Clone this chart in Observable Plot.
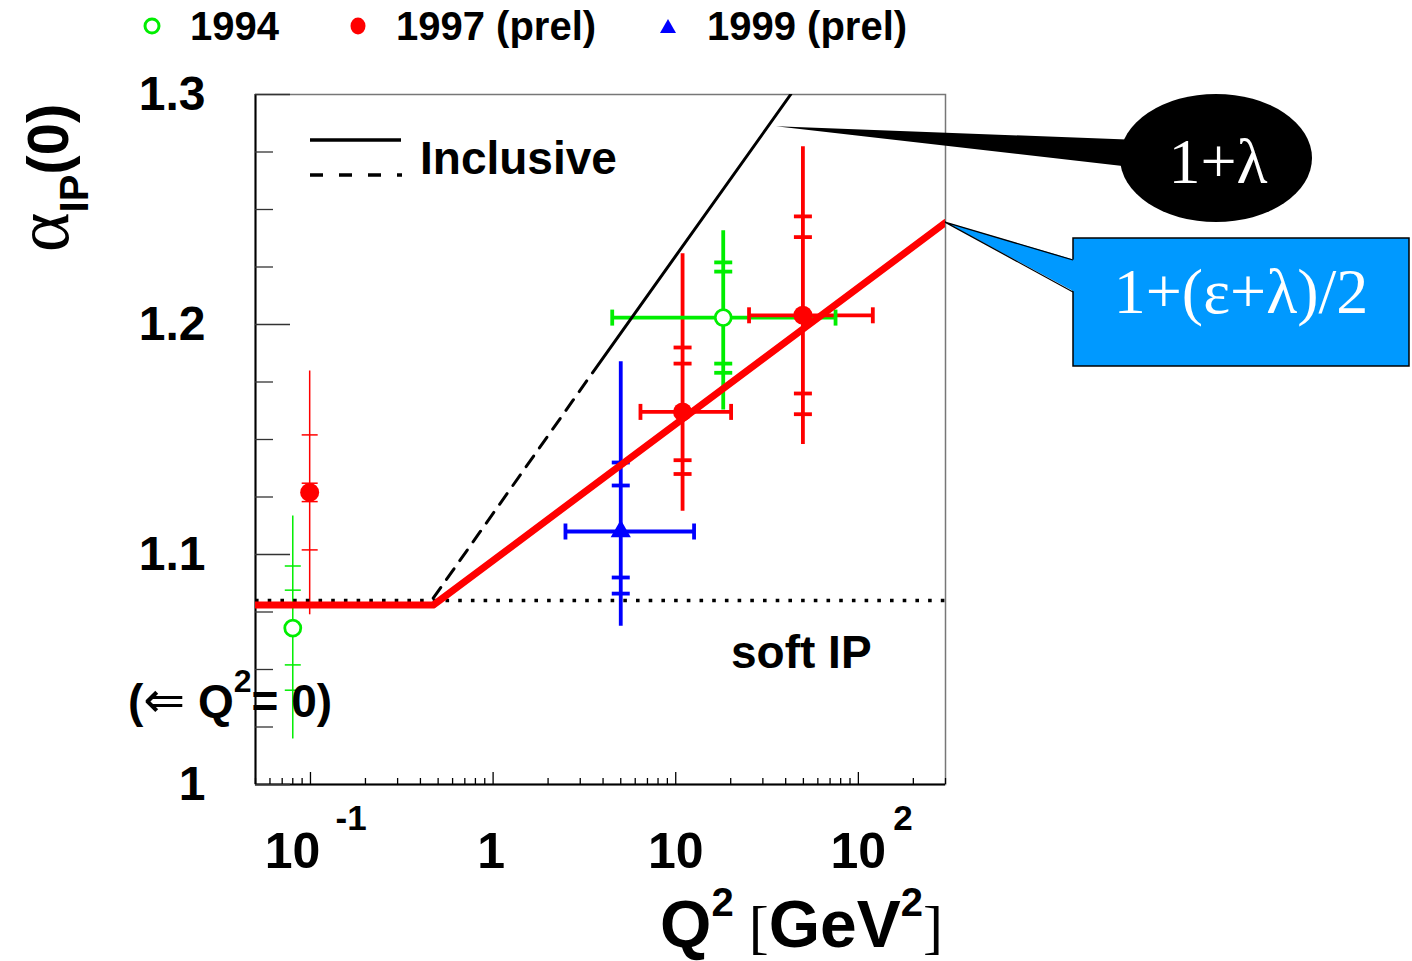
<!DOCTYPE html>
<html>
<head>
<meta charset="utf-8">
<script src="https://cdn.jsdelivr.net/npm/d3@7"></script>
<script src="https://cdn.jsdelivr.net/npm/@observablehq/plot@0.6"></script>
<style>
html,body{margin:0;padding:0;background:#fff;}
#chart svg{display:block;}
</style>
</head>
<body>
<div id="chart"></div>
<script>
// ================= DATA =================
const seriesNames = ["1994", "1997 (prel)", "1999 (prel)"];

// measured points (Q^2 = 0 points are drawn at 0.08 and 0.1)
const pointSeries = ["1994", "1994", "1997 (prel)", "1997 (prel)", "1997 (prel)", "1999 (prel)"];
const pointQ2     = [0.08,   18.2,   0.099,  10.9,   49.7,   5.0];
const pointAlpha  = [1.068,  1.203,  1.127,  1.162,  1.204,  1.110];
const errTotUp    = [0.049,  0.038,  0.053,  0.069,  0.0735, 0.074];
const errTotDn    = [0.048,  0.040,  0.053,  0.043,  0.056,  0.041];
const errInnerUp  = [0.0165, 0.020,  0.004,  0.021,  0.034,  0.020];
const errInnerDn  = [0.016,  0.020,  0.004,  0.021,  0.034,  0.020];
const errOuterUp  = [0.027,  0.024,  0.025,  0.028,  0.043,  0.030];
const errOuterDn  = [0.027,  0.024,  0.025,  0.027,  0.043,  0.027];
const q2Low       = [null,   4.49,   null,   6.41,   25.2,   2.49];
const q2High      = [null,   75,     null,   20.1,   120,    12.6];

// model curves
const modelQ2 = [0.05, 0.47, 300];
const modelAlpha = [1.078, 1.078, 1.2443];           // 1+(eps+lambda)/2
const inclDashQ2 = [0.47, 3.5];
const inclDashAlpha = [1.081, 1.179];                  // 1+lambda (extrapolated)
const inclSolidQ2 = [3.5, 42.6];
const inclSolidAlpha = [1.179, 1.3];                   // 1+lambda
const softPomeron = [1.08];
const lambdaTip = [35.6, 1.286];                       // where the "1+λ" callout points

// axes
const yMajor = [1.0, 1.1, 1.2, 1.3];
const yTickLabels = ["1", "1.1", "1.2", "1.3"];
const xMajor = [0.1, 1, 10, 100];
const xTickBase = ["10", "1", "10", "10"];
const xTickExp = ["-1", "", "", "2"];

// ================= STYLE / LAYOUT =================
const seriesColor = {"1994": "#00ee00", "1997 (prel)": "#ff0000", "1999 (prel)": "#0000ff"};
const X0 = 0.05, X1 = 300, Y0 = 1.0, Y1 = 1.3;
const W = 1412, H = 961;
const M = {top: 94, right: 467, bottom: 177, left: 255};
const FW = W - M.left - M.right, FH = H - M.top - M.bottom;
const sans = "'Liberation Sans', Arial, Helvetica, sans-serif";
const serif = "'Liberation Serif', 'Times New Roman', serif";
const xBaseDx = [-18, -2, 0, 0];
const xExpDx = [25, 0, 0, 35];

const yMinor = d3.range(0, 13).map(k => +(Y0 + k * 0.025).toFixed(3)).filter(v => !yMajor.includes(v));
const xMinor = [];
for (const dec of [0.01, 0.1, 1, 10, 100]) for (let m = 2; m <= 9; m++) {
  const v = +(dec * m).toPrecision(3);
  if (v >= X0 && v <= X1) xMinor.push(v);
}

const pts = pointQ2.map((q, i) => ({
  s: pointSeries[i], c: seriesColor[pointSeries[i]], q, a: pointAlpha[i],
  up: errTotUp[i], dn: errTotDn[i],
  i1u: errInnerUp[i], i1d: errInnerDn[i], i2u: errOuterUp[i], i2d: errOuterDn[i],
  lo: q2Low[i], hi: q2High[i], thin: q2Low[i] == null
}));
const ticksOn = pts.flatMap(d => [d.a + d.i1u, d.a - d.i1d, d.a + d.i2u, d.a - d.i2d]
  .map(y => ({q: d.q, y, c: d.c, thin: d.thin})));
const xErr = pts.filter(d => d.lo != null);
const xCaps = xErr.flatMap(d => [d.lo, d.hi].map(x => ({x, y: d.a, c: d.c})));

const hTick = {draw(ctx, size) { const w = Math.sqrt(size / Math.PI); ctx.moveTo(-w, 0); ctx.lineTo(w, 0); }};
const vTick = {draw(ctx, size) { const w = Math.sqrt(size / Math.PI); ctx.moveTo(0, -w); ctx.lineTo(0, w); }};

const toRows = (xs, ys) => xs.map((x, i) => ({x, y: ys[i]}));

const marks = [
  Plot.frame({stroke: "#777", strokeWidth: 1.5}),
  Plot.ruleX([X0], {stroke: "#000", strokeWidth: 2}),
  Plot.ruleY([Y0], {stroke: "#000", strokeWidth: 2}),
  Plot.tickY(yMajor, {y: d => d, insetRight: FW - 35, stroke: "#333", strokeWidth: 1.3}),
  Plot.tickY(yMinor, {y: d => d, insetRight: FW - 18, stroke: "#333", strokeWidth: 1.3}),
  Plot.tickX(xMajor, {x: d => d, insetTop: FH - 12, stroke: "#000", strokeWidth: 1.3}),
  Plot.tickX(xMinor, {x: d => d, insetTop: FH - 6, stroke: "#000", strokeWidth: 1.3}),
  Plot.text(yMajor, {x: X0, y: d => d, text: (d, i) => yTickLabels[i], textAnchor: "end", dx: -50,
    fontSize: 48, fontWeight: "bold", fontFamily: sans, fill: "#000"}),
  ...xMajor.map((v, i) => Plot.text([v], {x: d => d, y: Y0, text: () => xTickBase[i], dx: xBaseDx[i], dy: 67,
    fontSize: 50, fontWeight: "bold", fontFamily: sans, fill: "#000"})),
  ...xMajor.map((v, i) => Plot.text([v], {x: d => d, y: Y0, text: () => xTickExp[i], dx: xExpDx[i], dy: 34,
    textAnchor: "start", fontSize: 35, fontWeight: "bold", fontFamily: sans, fill: "#000"})),

  // vertical error bars
  Plot.link(pts, {x1: "q", x2: "q", y1: d => d.a - d.dn, y2: d => d.a + d.up, stroke: "c",
    strokeWidth: d => d.thin ? 1.5 : 3.8}),
  Plot.dot(ticksOn.filter(d => d.thin), {x: "q", y: "y", symbol: hTick, r: 8, stroke: "c", fill: "none", strokeWidth: 1.5}),
  Plot.dot(ticksOn.filter(d => !d.thin), {x: "q", y: "y", symbol: hTick, r: 9, stroke: "c", fill: "none", strokeWidth: 3.8}),
  // horizontal error bars
  Plot.link(xErr, {x1: "lo", x2: "hi", y1: "a", y2: "a", stroke: "c", strokeWidth: 3.8}),
  Plot.dot(xCaps, {x: "x", y: "y", symbol: vTick, r: 8, stroke: "c", fill: "none", strokeWidth: 3.8}),

  // models
  Plot.ruleY(softPomeron, {stroke: "#000", strokeWidth: 3.6, strokeDasharray: "3.6 9.1"}),
  Plot.line(toRows(inclDashQ2, inclDashAlpha), {x: "x", y: "y", stroke: "#000", strokeWidth: 3, strokeDasharray: "13 10", clip: true}),
  Plot.line(toRows(inclSolidQ2, inclSolidAlpha), {x: "x", y: "y", stroke: "#000", strokeWidth: 3, clip: true}),
  Plot.line(toRows(modelQ2, modelAlpha), {x: "x", y: "y", stroke: "#ff0000", strokeWidth: 7, clip: true}),

  // markers
  Plot.dot(pts.filter(d => d.s === "1994"), {x: "q", y: "a", r: 8, fill: "#fff", stroke: "c", strokeWidth: 2.8}),
  Plot.dot(pts.filter(d => d.s === "1997 (prel)"), {x: "q", y: "a", r: 9.5, fill: "c", stroke: "none"}),
  Plot.dot(pts.filter(d => d.s === "1999 (prel)"), {x: "q", y: "a", symbol: "triangle", r: 7.5, fill: "c", stroke: "none"})
];

const plot = Plot.plot({
  width: W, height: H,
  marginTop: M.top, marginRight: M.right, marginBottom: M.bottom, marginLeft: M.left,
  x: {type: "log", domain: [X0, X1], axis: null},
  y: {domain: [Y0, Y1], axis: null},
  color: {type: "identity"},
  style: {fontFamily: sans, background: "#fff", overflow: "visible"},
  marks
});
document.getElementById("chart").appendChild(plot);

// ================= annotations =================
const svg = d3.select(plot);
const sx = plot.scale("x"), sy = plot.scale("y");
const px = v => sx.apply(v), py = v => sy.apply(v);
const ann = svg.append("g").attr("text-anchor", "start").attr("fill", "#000");

// top legend
const lg = ann.append("g").attr("font-family", sans).attr("font-weight", "bold").attr("font-size", 40);
lg.append("circle").attr("cx", 152).attr("cy", 26).attr("r", 7).attr("fill", "none")
  .attr("stroke", seriesColor["1994"]).attr("stroke-width", 3);
lg.append("text").attr("x", 190).attr("y", 40).text(seriesNames[0]);
lg.append("ellipse").attr("cx", 358).attr("cy", 26).attr("rx", 7.5).attr("ry", 8.5).attr("fill", seriesColor["1997 (prel)"]);
lg.append("text").attr("x", 396).attr("y", 40).text(seriesNames[1]);
lg.append("path").attr("d", "M668,19L676,33L660,33Z").attr("fill", seriesColor["1999 (prel)"]);
lg.append("text").attr("x", 707).attr("y", 40).text(seriesNames[2]);

// Inclusive legend
ann.append("line").attr("x1", 310).attr("x2", 401).attr("y1", 140).attr("y2", 140).attr("stroke", "#000").attr("stroke-width", 3.5);
ann.append("line").attr("x1", 310).attr("x2", 402).attr("y1", 175).attr("y2", 175).attr("stroke", "#000").attr("stroke-width", 3.5)
  .attr("stroke-dasharray", "13 16");
ann.append("text").attr("x", 420).attr("y", 174).attr("font-family", sans).attr("font-weight", "bold").attr("font-size", 46).text("Inclusive");

// soft IP
ann.append("text").attr("x", 731).attr("y", 668).attr("font-family", sans).attr("font-weight", "bold").attr("font-size", 46).text("soft IP");

// (⇐ Q² = 0)
const qz = ann.append("text").attr("x", 128).attr("y", 717).attr("font-family", sans).attr("font-weight", "bold").attr("font-size", 46);
qz.append("tspan").text("(");
qz.append("tspan").attr("font-family", "'DejaVu Sans', sans-serif").attr("font-weight", "normal").attr("font-size", 50).text("⇐");
qz.append("tspan").text(" Q");
qz.append("tspan").attr("font-size", 32).attr("dy", -25).text("2");
qz.append("tspan").attr("dy", 25).text("= 0)");

// Y-axis title
const yt = ann.append("text").attr("transform", "translate(68,178) rotate(-90)").attr("text-anchor", "middle");
yt.append("tspan").attr("font-family", serif).attr("font-size", 76).text("α");
yt.append("tspan").attr("font-family", sans).attr("font-weight", "bold").attr("font-size", 40).attr("dy", 20).text("IP");
yt.append("tspan").attr("font-family", sans).attr("font-weight", "bold").attr("font-size", 58).attr("dy", -20).text("(0)");

// X-axis title
const xt = ann.append("text").attr("x", 943).attr("y", 947).attr("text-anchor", "end");
xt.append("tspan").attr("font-family", sans).attr("font-weight", "bold").attr("font-size", 66).text("Q");
xt.append("tspan").attr("font-family", sans).attr("font-weight", "bold").attr("font-size", 40).attr("dy", -31).text("2");
xt.append("tspan").attr("font-family", serif).attr("font-size", 60).attr("dy", 31).text(" [");
xt.append("tspan").attr("font-family", sans).attr("font-weight", "bold").attr("font-size", 66).text("GeV");
xt.append("tspan").attr("font-family", sans).attr("font-weight", "bold").attr("font-size", 40).attr("dy", -31).text("2");
xt.append("tspan").attr("font-family", serif).attr("font-size", 60).attr("dy", 31).text("]");

// 1+λ callout
const lt = [px(lambdaTip[0]), py(lambdaTip[1])];
ann.append("path").attr("d", `M${lt[0]},${lt[1]}L1140,140L1140,168Z`).attr("fill", "#000");
ann.append("ellipse").attr("cx", 1216).attr("cy", 158).attr("rx", 96).attr("ry", 64).attr("fill", "#000");
ann.append("text").attr("x", 1218).attr("y", 183).attr("text-anchor", "middle").attr("font-family", serif)
  .attr("font-size", 64).attr("fill", "#fff").text("1+λ");

// 1+(ε+λ)/2 callout
const et = [px(modelQ2[2]), py(modelAlpha[2])];
const boxFill = "#0099ff";
ann.append("rect").attr("x", 1073).attr("y", 238).attr("width", 336).attr("height", 128)
  .attr("fill", boxFill).attr("stroke", "#000").attr("stroke-width", 1.5);
ann.append("path").attr("d", `M${et[0]},${et[1]}L1075,260L1075,292Z`).attr("fill", boxFill);
ann.append("path").attr("d", `M1073,260L${et[0]},${et[1]}L1073,292`).attr("fill", "none").attr("stroke", "#000").attr("stroke-width", 1.3);
ann.append("text").attr("x", 1241).attr("y", 313).attr("text-anchor", "middle").attr("font-family", serif)
  .attr("font-size", 64).attr("fill", "#fff").text("1+(ε+λ)/2");
</script>
</body>
</html>
